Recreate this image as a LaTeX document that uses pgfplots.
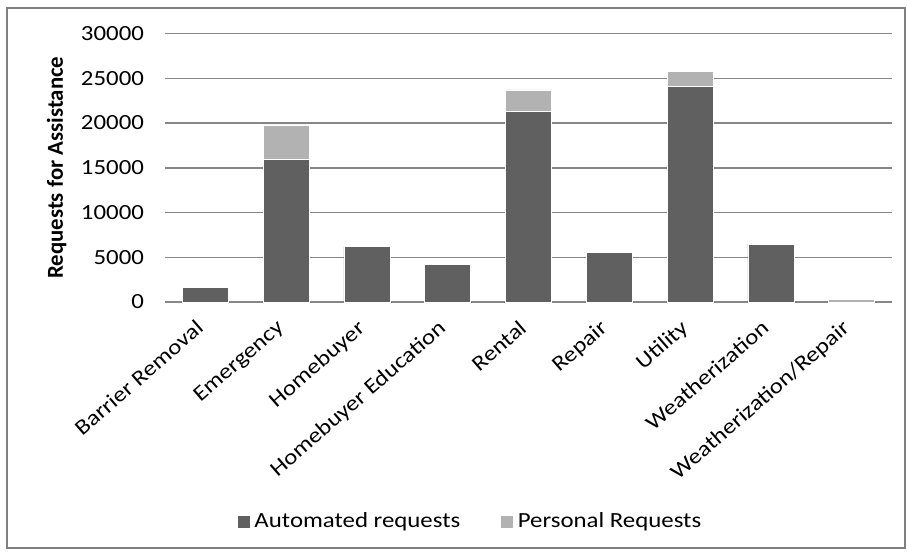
\documentclass[border=0pt]{standalone}
\usepackage{fontspec}
\setmainfont{Carlito}[FakeStretch=1.15]
\newfontfamily\ylabfont{Carlito}
\usepackage{pgfplots}
\pgfplotsset{compat=1.18}

\definecolor{autoc}{RGB}{96,96,96}
\definecolor{persc}{RGB}{178,178,178}
\definecolor{gridc}{RGB}{134,134,134}
\definecolor{framec}{RGB}{128,128,128}

\begin{document}
\begin{tikzpicture}
\path[use as bounding box] (-82.5pt,-125pt) rectangle (371pt,151pt);
\draw[framec, line width=1pt] (-79pt,-123pt) rectangle (370pt,147pt);
\begin{axis}[
    at={(0,0)}, anchor=south west,
    scale only axis,
    width=363.5pt, height=134.25pt,
    ybar stacked,
    bar width=23pt,
    xmin=-0.5, xmax=8.5,
    ymin=0, ymax=30000,
    ytick={0,5000,...,30000},
    xtick=data,
    xticklabels={Barrier Removal, Emergency, Homebuyer, Homebuyer Education, Rental, Repair, Utility, Weatherization, Weatherization/Repair},
    font=\fontsize{10.8pt}{13pt}\selectfont,
    /pgf/number format/assume math mode=true,
    scaled y ticks=false,
    yticklabel={\pgfmathprintnumber[fixed,1000 sep={}]{\tick}},
    major tick length=0pt,
    axis x line*=bottom,
    axis y line*=left,
    y axis line style={draw=none},
    x axis line style={gridc, line width=0.75pt},
    ymajorgrids,
    grid style={gridc, line width=0.75pt},
    yticklabel style={xshift=-7pt},
    xticklabel style={xshift=-5pt, yshift=-3.5pt, rotate=41, anchor=north east},
    ylabel={\ylabfont\fontsize{11.4pt}{13pt}\selectfont\bfseries Requests for Assistance},
    ylabel style={at={(axis description cs:-0.149,0.5)}, anchor=center, rotate=0},
    legend style={at={(rel axis cs:0.421,-0.819)}, anchor=center, draw=none, fill=none,
        legend columns=2, /tikz/every even column/.append style={column sep=18pt}},
    legend image code/.code={\fill[#1] (0pt,-3pt) rectangle (6.5pt,3.5pt);},
    clip=false,
]
\addplot[fill=autoc, draw=white, line width=0.3pt] coordinates {(0,1640) (1,15900) (2,6180) (3,4170) (4,21260) (5,5510) (6,24100) (7,6480) (8,0)};
\addplot[fill=persc, draw=white, line width=0.3pt] coordinates {(0,0) (1,3880) (2,0) (3,0) (4,2430) (5,0) (6,1670) (7,0) (8,300)};
\legend{Automated requests, Personal Requests}
\end{axis}
\end{tikzpicture}
\end{document}
